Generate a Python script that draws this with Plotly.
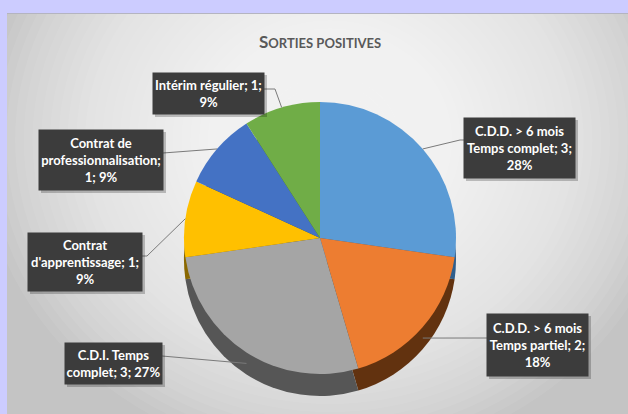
import math
import textwrap
import plotly.graph_objects as go

# ---------------- data ----------------
categories = [
    "C.D.D. > 6 mois Temps complet",
    "C.D.D. > 6 mois Temps partiel",
    "C.D.I. Temps complet",
    "Contrat d'apprentissage",
    "Contrat de professionnalisation",
    "Intérim régulier",
]
values = [3, 2, 3, 1, 1, 1]
percents = ["28%", "18%", "27%", "9%", "9%", "9%"]
title_text = "Sorties positives"

# ---------------- style ----------------
W, H = 628, 414
top_colors = ["#5B9BD5", "#ED7D31", "#A5A5A5", "#FFC000", "#4472C4", "#70AD47"]
side_colors = ["#2F5E8C", "#62320F", "#565656", "#8A6800", "#233F74", "#3B6324"]
FONT = "Lato, Roboto, sans-serif"
LAV = "#CCCCFF"
EDGE = "#C6C6C6"

cx, cy, R, depth = 320, 238, 136, 22

def px(x):
    return x / W

def py(y):
    return 1 - y / H

def domain(cxp, cyp, r):
    return dict(x=[px(cxp - r), px(cxp + r)], y=[py(cyp + r), py(cyp - r)])

fig = go.Figure()

# 3D rim: a darker copy of the pie shifted downward
fig.add_trace(go.Pie(
    values=values, labels=categories, sort=False, direction="clockwise", rotation=0,
    textinfo="none", hoverinfo="skip", showlegend=False,
    marker=dict(colors=side_colors, line=dict(width=0)),
    domain=domain(cx, cy + depth, R),
))
# top face
fig.add_trace(go.Pie(
    values=values, labels=categories, sort=False, direction="clockwise", rotation=0,
    textinfo="none", showlegend=False,
    marker=dict(colors=top_colors, line=dict(width=0)),
    domain=domain(cx, cy, R),
))

# ---------------- background panel with radial light ----------------
shapes = []
shapes.append(dict(type="rect", xref="paper", yref="paper", layer="below",
                   x0=-0.05, x1=1.05, y0=-0.05, y1=1.05, fillcolor="#C4C4C4",
                   line=dict(width=0)))
n = 40
gx, gy, grx, gry = 330, 140, 350, 320
for i in range(n):
    f = 1 - i / n
    shapes.append(dict(type="circle", xref="paper", yref="paper", layer="below",
                       x0=px(gx - grx * f), x1=px(gx + grx * f),
                       y0=py(gy + gry * f), y1=py(gy - gry * f),
                       fillcolor="white", opacity=0.066, line=dict(width=0)))
# lavender frame on top of the gradient
shapes.append(dict(type="rect", xref="paper", yref="paper", layer="below",
                   x0=-0.05, x1=1.05, y0=py(13), y1=1.05, fillcolor=LAV, line=dict(width=0)))
shapes.append(dict(type="rect", xref="paper", yref="paper", layer="below",
                   x0=-0.05, x1=px(7), y0=-0.05, y1=1.05, fillcolor=LAV, line=dict(width=0)))
shapes.append(dict(type="line", xref="paper", yref="paper", layer="below",
                   x0=px(7), x1=1.05, y0=py(13.5), y1=py(13.5),
                   line=dict(color="#B4B4C0", width=1)))

# ---------------- data labels ----------------
# box centre (px), box size (px), wrap width (chars), leader-line kink point
boxes = [
    dict(c=(519.5, 148), s=(111, 60), wrap=17, anchor=(464, 140), kink=(460, 140)),
    dict(c=(537.5, 345), s=(101, 62), wrap=17, anchor=(487, 338), kink=None),
    dict(c=(113.5, 363.5), s=(97, 41), wrap=15, anchor=(162, 356), kink=None),
    dict(c=(85, 262), s=(114, 58), wrap=19, anchor=(142, 256), kink=(147, 256)),
    dict(c=(101, 160), s=(124, 60), wrap=21, anchor=(163, 153), kink=None),
    dict(c=(208.5, 93.5), s=(111, 41), wrap=20, anchor=(264, 89), kink=(275, 89)),
]

total = sum(values)
cum = 0
annotations = []
for cat, v, p, b in zip(categories, values, percents, boxes):
    mid = (cum + v / 2) / total * 2 * math.pi
    cum += v
    ex = cx + R * math.sin(mid)
    ey = cy - R * math.cos(mid)
    if math.cos(mid) < 0:
        ey += depth / 2
    pts = [b["anchor"]] + ([b["kink"]] if b["kink"] else []) + [(ex, ey)]
    path = "M " + " L ".join(f"{px(x)},{py(y)}" for x, y in pts)
    shapes.append(dict(type="path", xref="paper", yref="paper", path=path,
                       line=dict(color="#7A7A7A", width=1)))
    bx, by = b["c"]
    bw, bh = b["s"]
    # soft shadow
    shapes.append(dict(type="rect", xref="paper", yref="paper",
                       x0=px(bx - bw / 2 + 2), x1=px(bx + bw / 2 + 3),
                       y0=py(by + bh / 2 + 3), y1=py(by - bh / 2 + 2),
                       fillcolor="rgba(0,0,0,0.22)", line=dict(width=0)))
    text = "<br>".join(textwrap.wrap(f"{cat}; {v}; {p}", b["wrap"]))
    annotations.append(dict(
        x=px(bx), y=py(by), xref="paper", yref="paper", xanchor="center", yanchor="middle",
        text=f"<b>{text}</b>", showarrow=False, align="center",
        width=bw, height=bh, borderpad=0, bgcolor="#3C3C3C",
        font=dict(family=FONT, size=13, color="white"),
    ))

# title in small caps
t = title_text
title_html = (f"<b><span style='font-size:17px'>{t[0].upper()}</span>"
              f"{t[1:].upper()}</b>")
annotations.append(dict(x=px(320), y=py(41), xref="paper", yref="paper",
                        xanchor="center", yanchor="middle", showarrow=False,
                        text=title_html,
                        font=dict(family=FONT, size=13, color="#595959")))

fig.update_layout(
    width=W, height=H, margin=dict(l=0, r=0, t=0, b=0),
    paper_bgcolor=EDGE, plot_bgcolor=EDGE,
    shapes=shapes, annotations=annotations, showlegend=False,
)

fig.write_html(
    "out.html",
    config={"displayModeBar": False},
    post_script="document.body.style.margin='0';document.body.style.overflow='hidden';",
)
